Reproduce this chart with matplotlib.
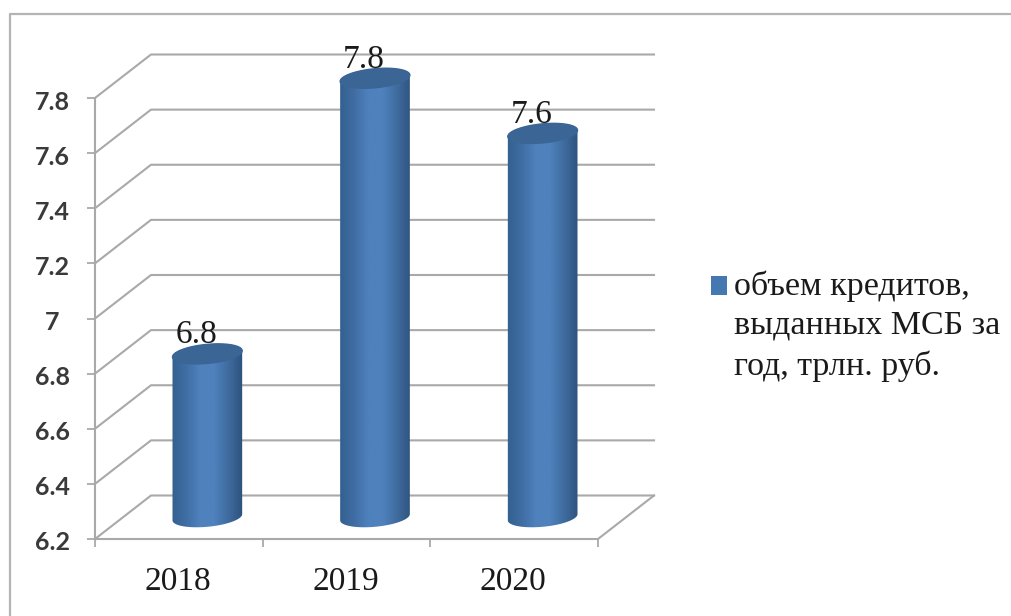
import numpy as np
import matplotlib
matplotlib.use('Agg')
import matplotlib.pyplot as plt
from matplotlib.lines import Line2D
from matplotlib.patches import Patch, PathPatch
from matplotlib.path import Path
from matplotlib.colors import LinearSegmentedColormap
from matplotlib.transforms import ScaledTranslation

years = ['2018', '2019', '2020']
values = [6.8, 7.8, 7.6]
yticks = [6.2, 6.4, 6.6, 6.8, 7.0, 7.2, 7.4, 7.6, 7.8]
ytick_labels = ['6.2', '6.4', '6.6', '6.8', '7', '7.2', '7.4', '7.6', '7.8']
legend_label = 'объем кредитов,\nвыданных МСБ за\nгод, трлн. руб.'

W, H = 1012, 616
GRID = '#a9a9a9'

fig = plt.figure(figsize=(W/100, H/100), dpi=100, facecolor='white')
ax = fig.add_axes([95/W, (H-539)/H, 503/W, 441/H])
ax.set_xlim(0, 3)
ax.set_ylim(6.2, 7.8)

# px per data unit, used for the fake 3d depth
sx = 503/3
sy = 441/1.6
dx = 56/sx
dy = 43.5/sy

# outer frame, only left and top are in the picture
fig.add_artist(Line2D([10/W, 10/W, 1], [0, (H-14)/H, (H-14)/H], color='#b4b4b4', lw=1.6))

# back wall and floor
for t in yticks:
    ax.plot([0, dx, 3+dx], [t, t+dy, t+dy], color=GRID, lw=1.5, clip_on=False, zorder=1)
ax.plot([3, 3+dx], [6.2, 6.2+dy], color=GRID, lw=1.5, clip_on=False, zorder=1)

for s in ['top', 'right']:
    ax.spines[s].set_visible(False)
for s in ['left', 'bottom']:
    ax.spines[s].set_color(GRID)
    ax.spines[s].set_linewidth(1.5)

ax.set_yticks(yticks)
ax.set_yticklabels(ytick_labels, fontfamily='Lato', fontsize=18, fontweight='bold', color='#3a3a3a', ha='center')
ax.tick_params(axis='y', length=5.8, width=1.3, color=GRID, pad=25)
for lab in ax.get_yticklabels():
    lab.set_transform(lab.get_transform() + ScaledTranslation(0, -2/100, fig.dpi_scale_trans))
ax.set_xticks([0, 1, 2, 3])
ax.set_xticklabels([])
ax.tick_params(axis='x', length=6, width=1.3, color=GRID)
for i, y in enumerate(years):
    ax.annotate(y, xy=(i+0.5, 6.2), xytext=(-1, -43), textcoords='offset pixels', ha='center', va='center',
                fontfamily='Liberation Serif', fontsize=24, color='#1a1a1a', annotation_clip=False)

cmap = LinearSegmentedColormap.from_list('cyl', ['#34608f', '#3f6da3', '#4f81bd', '#4f81bd', '#3f6c9f', '#2d517c'])
grad = np.linspace(0, 1, 128).reshape(1, -1)


def ellipse(cx, cy, t):
    # cylinder end cap, slightly tilted, sizes in px
    a, b, tilt = 35, 9.5, np.radians(5.5)
    px = a*np.cos(t)*np.cos(tilt) - b*np.sin(t)*np.sin(tilt)
    py = a*np.cos(t)*np.sin(tilt) + b*np.sin(t)*np.cos(tilt)
    return cx + px/sx, cy + py/sy


for i, v in enumerate(values):
    cx = i + 0.5 + dx/2 + 0.5/sx
    base = 6.2 + dy/2
    top = v + dy/2 - 2/sy
    t1 = np.linspace(np.pi, 2*np.pi, 40)
    t2 = np.linspace(0, np.pi, 40)
    bx, by = ellipse(cx, base, t1)
    tx, ty = ellipse(cx, top, t2)
    verts = np.column_stack([np.r_[bx, tx], np.r_[by, ty]])
    body = PathPatch(Path(np.vstack([verts, verts[0]]), closed=True), transform=ax.transData, fc='none', ec='none')
    ax.add_patch(body)
    body.set_clip_on(False)
    im = ax.imshow(grad, extent=[cx-36/sx, cx+36/sx, base-20/sy, top+20/sy], aspect='auto', cmap=cmap, zorder=3)
    im.set_clip_box(fig.bbox)
    im.set_clip_path(body)
    ex, ey = ellipse(cx, top, np.linspace(0, 2*np.pi, 80))
    ax.fill(ex, ey, color='#3a6595', zorder=4, clip_on=False)
    ax.annotate(str(v), xy=(cx, top), xytext=(-11, 19), textcoords='offset pixels', ha='center', va='center',
                fontfamily='Liberation Serif', fontsize=24, color='#1a1a1a', zorder=5, annotation_clip=False)

ax.set_xlim(0, 3)
ax.set_ylim(6.2, 7.8)

handle = Patch(fc='#4577b0', ec='none')
leg = fig.legend(handles=[handle], labels=[legend_label], loc='upper left', bbox_to_anchor=(711/W, (H-270)/H),
                 frameon=False, prop={'family': 'Liberation Serif', 'size': 24.5}, labelcolor='#1a1a1a',
                 handlelength=0.47, handleheight=0.47, handletextpad=0.2, labelspacing=0, borderpad=0, borderaxespad=0)
leg.get_texts()[0].set_linespacing(1.38)
# handle sits by the first line, not centred on the block
box = leg.legend_handles[0]
box.set_y(box.get_y() + 29)

fig.savefig('out.png', dpi=100)
